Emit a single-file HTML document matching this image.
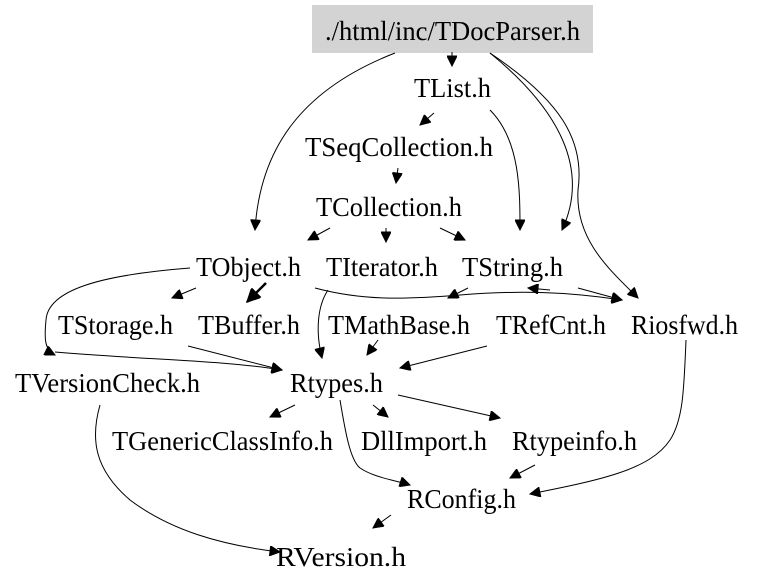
<!DOCTYPE html>
<html><head><meta charset="utf-8"><style>
html,body{margin:0;padding:0;background:#fff;width:757px;height:587px;overflow:hidden}
text{font-family:"Liberation Serif",serif;font-size:27px;fill:#000}
path{fill:none;stroke:#000;stroke-width:1}
</style></head><body>
<svg width="757" height="587" viewBox="0 0 757 587" xmlns="http://www.w3.org/2000/svg">
<defs><marker id="a" viewBox="0 0 10 10" refX="10" refY="5" markerWidth="12" markerHeight="10" markerUnits="userSpaceOnUse" orient="auto"><path d="M0,0L10,5L0,10z" style="fill:#000;stroke:#000"/></marker>
<marker id="b" viewBox="0 0 10 10" refX="10" refY="5" markerWidth="16" markerHeight="13" markerUnits="userSpaceOnUse" orient="auto"><path d="M0,0L10,5L0,10z" style="fill:#000;stroke:#000"/></marker></defs>
<rect x="312" y="5" width="281" height="48" fill="#d3d3d3"/>
<g>
<text x="325" y="40" textLength="255" lengthAdjust="spacingAndGlyphs">./html/inc/TDocParser.h</text>
<text x="414" y="97" textLength="77" lengthAdjust="spacingAndGlyphs">TList.h</text>
<text x="305" y="156" textLength="188" lengthAdjust="spacingAndGlyphs">TSeqCollection.h</text>
<text x="316" y="216" textLength="146" lengthAdjust="spacingAndGlyphs">TCollection.h</text>
<text x="196" y="276" textLength="105" lengthAdjust="spacingAndGlyphs">TObject.h</text>
<text x="326" y="276" textLength="112" lengthAdjust="spacingAndGlyphs">TIterator.h</text>
<text x="462" y="276" textLength="101" lengthAdjust="spacingAndGlyphs">TString.h</text>
<text x="58" y="334" textLength="115" lengthAdjust="spacingAndGlyphs">TStorage.h</text>
<text x="198" y="334" textLength="102" lengthAdjust="spacingAndGlyphs">TBuffer.h</text>
<text x="328" y="334" textLength="142" lengthAdjust="spacingAndGlyphs">TMathBase.h</text>
<text x="496" y="334" textLength="110" lengthAdjust="spacingAndGlyphs">TRefCnt.h</text>
<text x="631" y="334" textLength="107" lengthAdjust="spacingAndGlyphs">Riosfwd.h</text>
<text x="15" y="392" textLength="185" lengthAdjust="spacingAndGlyphs">TVersionCheck.h</text>
<text x="290" y="392" textLength="93" lengthAdjust="spacingAndGlyphs">Rtypes.h</text>
<text x="112" y="450" textLength="221" lengthAdjust="spacingAndGlyphs">TGenericClassInfo.h</text>
<text x="361" y="450" textLength="126" lengthAdjust="spacingAndGlyphs">DllImport.h</text>
<text x="512" y="450" textLength="125" lengthAdjust="spacingAndGlyphs">Rtypeinfo.h</text>
<text x="407" y="508" textLength="109" lengthAdjust="spacingAndGlyphs">RConfig.h</text>
<text x="276" y="566" textLength="130" lengthAdjust="spacingAndGlyphs">RVersion.h</text>
</g>
<g marker-end="url(#a)">
<path d="M452,52 L452,66"/>
<path d="M395,53 C300,90 260,150 255,230"/>
<path d="M490,53 C560,110 590,170 562,230"/>
<path d="M490,53 C560,100 585,140 578,190 C575,240 610,270 638,298"/>
<path d="M434,113 L420,125"/>
<path d="M490,110 C520,140 520,190 520,230"/>
<path d="M398,168 L396,183"/>
<path d="M330,228 L308,240"/>
<path d="M386,228 L386,242"/>
<path d="M440,228 L465,240"/>
<path d="M196,288 L172,298"/>
<path d="M190,268 C100,275 48,290 46,320 C44,340 45,350 55,355"/>
<path d="M315,288 C360,300 400,300 460,295 C520,290 570,292 622,300"/>
<path d="M468,288 L448,298"/>
<path d="M550,290 L528,288"/>
<path d="M578,288 L622,300"/>
<path d="M328,290 C318,305 315,330 322,358"/>
<path d="M188,346 L282,370"/>
<path d="M55,352 C150,360 220,360 282,370"/>
<path d="M378,340 L367,355"/>
<path d="M487,346 L400,368"/>
<path d="M295,405 L270,417"/>
<path d="M373,405 L388,417"/>
<path d="M398,395 L500,418"/>
<path d="M340,400 C345,430 350,460 360,468 C375,478 395,480 410,485"/>
<path d="M535,465 L510,478"/>
<path d="M686,340 C684,390 683,420 670,440 C650,470 600,480 530,494"/>
<path d="M100,405 C90,440 95,470 130,500 C170,530 220,545 280,552"/>
<path d="M391,515 L373,528"/>
</g>
<path d="M266,283 L247,302" style="stroke-width:2.5" marker-end="url(#b)"/>
</svg>
</body></html>
